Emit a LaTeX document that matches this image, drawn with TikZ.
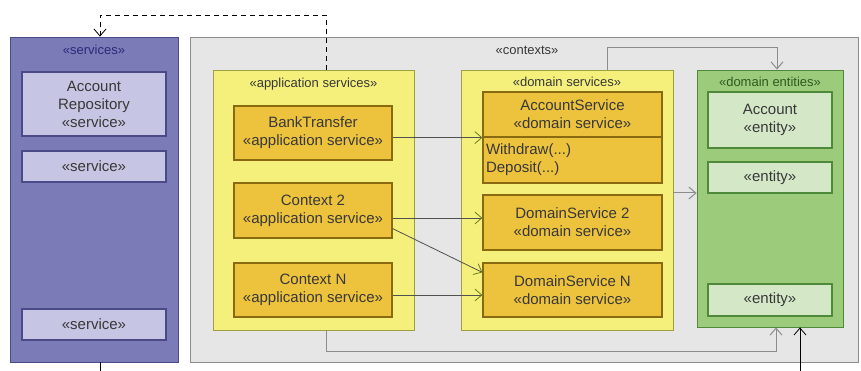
\documentclass[tikz,border=0pt]{standalone}
\usepackage{fontspec}
\setmainfont{Liberation Sans}
\usetikzlibrary{arrows.meta, positioning, calc}
\definecolor{svcfill}{HTML}{7B7BB8}
\definecolor{svcline}{HTML}{4A4A88}
\definecolor{svcinner}{HTML}{C6C6E4}
\definecolor{svctext}{HTML}{2A2A7A}
\definecolor{ctxfill}{HTML}{E6E6E6}
\definecolor{ctxline}{HTML}{8C8C8C}
\definecolor{appfill}{HTML}{F5F07C}
\definecolor{appline}{HTML}{A0A040}
\definecolor{partfill}{HTML}{EDC33E}
\definecolor{partline}{HTML}{8A6A10}
\definecolor{entfill}{HTML}{9CCB7C}
\definecolor{entline}{HTML}{4E8A3A}
\definecolor{entinner}{HTML}{D4E8C8}
\definecolor{enttext}{HTML}{2E5A1E}
\definecolor{textgray}{HTML}{383838}
\definecolor{linegray}{HTML}{505050}
\definecolor{tipgreen}{HTML}{6A7A20}

\begin{document}
\begin{tikzpicture}[x=1pt, y=-1pt,
  every node/.style={font=\fontsize{15}{18}\selectfont, text=textgray, inner sep=0pt, align=center},
  title/.style={font=\fontsize{13}{15}\selectfont},
  dims/.style 2 args={minimum width=#1pt, minimum height=#2pt},
  group/.style={rectangle, line width=0.8pt},
  part/.style={rectangle, line width=1.2pt},
  uses/.style={draw=linegray, line width=0.8pt, -{Straight Barb[length=7pt, width=12pt, color=tipgreen]}},
  gdep/.style={draw=ctxline, line width=1pt, -{Straight Barb[length=7pt, width=12pt]}},
  dep/.style={draw=black, line width=0.8pt, dashed, dash pattern=on 5pt off 4pt, -{Straight Barb[length=7pt, width=12pt]}},
  ext/.style={draw=black, line width=0.8pt, -{Straight Barb[length=7pt, width=12pt]}}
]
\useasboundingbox (0,0) rectangle (861,371);

% Containers
\node[group, dims={668}{325}, fill=ctxfill, draw=ctxline] (contexts) at (524,199.5) {};
\node[title] (ctxtitle) at (527,50) {«contexts»};
\node[group, dims={168}{325}, fill=svcfill, draw=svcline] (services) at (94,199.5) {};
\node[title, text=svctext] (svctitle) at (94,50) {«services»};

\node[group, dims={201}{260}, fill=appfill, draw=appline] (appsvcs) at (313.5,200) {};
\node[title] (apptitle) at (313.5,84) {«application services»};
\node[group, dims={212}{260}, fill=appfill, draw=appline] (domsvcs) at (567,200) {};
\node[title] (domtitle) at (567,82) {«domain services»};
\node[group, dims={146}{257}, fill=entfill, draw=entline] (entities) at (770,198.5) {};
\node[title, text=enttext] (enttitle) at (770,82) {«domain entities»};

% Services
\node[part, dims={144}{64}, fill=svcinner, draw=svcline] (repo) at (94,104) {Account\\Repository\\«service»};
\node[part, dims={144}{31}, fill=svcinner, draw=svcline] (svctwo) at (94,166.5) {«service»};
\node[part, dims={144}{31}, fill=svcinner, draw=svcline] (svcn) at (94,324.5) {«service»};

% Application services
\node[part, dims={158}{54}, fill=partfill, draw=partline] (banktr) at (313,133) {BankTransfer\\«application service»};
\node[part, dims={158}{55}, fill=partfill, draw=partline] (ctx2) at (313,210.5) {Context 2\\«application service»};
\node[part, dims={158}{54}, fill=partfill, draw=partline] (ctxn) at (313,290) {Context N\\«application service»};

% Domain services
\node[part, dims={179}{45}, fill=partfill, draw=partline] (accsvc) at (572.5,114.5) {AccountService\\«domain service»};
\node[part, dims={179}{46}, fill=partfill, draw=partline, text width=173pt, inner xsep=3pt, align=left] (accops) at (572.5,160) {Withdraw(...)\\Deposit(...)};
\node[part, dims={179}{55}, fill=partfill, draw=partline] (dom2) at (572.5,222.5) {DomainService 2\\«domain service»};
\node[part, dims={179}{54}, fill=partfill, draw=partline] (domn) at (572.5,290) {DomainService N\\«domain service»};

% Domain entities
\node[part, dims={124}{56}, fill=entinner, draw=entline] (acct) at (770,120) {Account\\«entity»};
\node[part, dims={124}{31}, fill=entinner, draw=entline] (enttwo) at (770,177.5) {«entity»};
\node[part, dims={124}{32}, fill=entinner, draw=entline] (entn) at (770,300) {«entity»};

% Connectors
\coordinate (deptop) at (100,15);
\coordinate (topbend) at (777,48);
\coordinate (botbend) at (776,351);
\coordinate (farbend) at (800,390);

\draw[dep] ([xshift=12.5pt]appsvcs.north) |- (deptop) -- (deptop |- services.north);
\draw[uses] (banktr.east |- accsvc.south) -- (accsvc.south west);
\draw[uses] ([yshift=-7.5pt]ctx2.east) coordinate (c2out) -- (c2out -| dom2.west);
\draw[uses] ([yshift=10pt]ctx2.south east) -- ([yshift=-10pt]domn.north west);
\draw[uses] ([yshift=-5pt]ctxn.east) coordinate (cnout) -- (cnout -| domn.west);
\draw[gdep] ([yshift=7pt]domsvcs.east) coordinate (dsout) -- (dsout -| entities.west);
\draw[gdep] ([xshift=40pt]domsvcs.north) |- (topbend) -- (topbend |- entities.north);
\draw[gdep] ([xshift=12.5pt]appsvcs.south) |- (botbend) -- (botbend |- entities.south);
\draw[ext] ([xshift=6pt]services.south) |- (farbend) -- (farbend |- entities.south);

\end{tikzpicture}
\end{document}
